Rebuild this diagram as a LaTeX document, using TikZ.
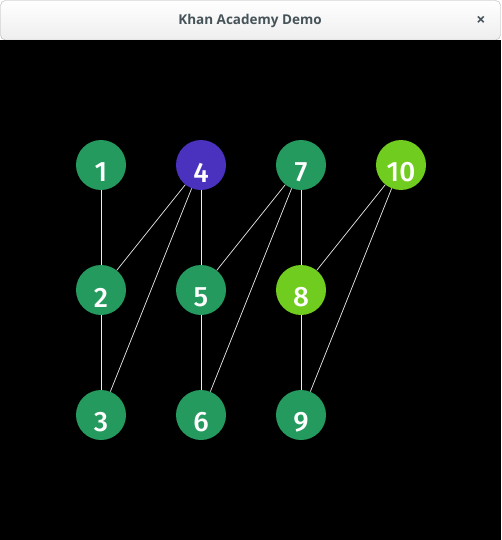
\documentclass[tikz,border=0pt]{standalone}
\usepackage{fontspec}
\setmainfont{Open Sans}
\newfontfamily\titlefont{Open Sans}
\newfontfamily\digitfont{Fira Sans Medium}
\definecolor{kgreen}{RGB}{37,154,94}
\definecolor{kpurple}{RGB}{74,50,190}
\definecolor{klime}{RGB}{112,204,30}
\definecolor{ktitle}{RGB}{70,84,90}
\definecolor{kbar}{RGB}{238,238,238}
\begin{document}
\begin{tikzpicture}[x=1pt,y=-1pt,
  vert/.style={circle,minimum size=50pt,inner sep=0pt},
  lab/.style={text=white,font=\digitfont\fontsize{28}{28}\selectfont,inner sep=0pt},
  edge/.style={draw=white!85!gray,line width=0.7pt}]
\useasboundingbox (0,0) rectangle (501,540);
\fill[white] (0,0) rectangle (501,540);
\shade[top color=white,bottom color=kbar,rounded corners=5pt,draw=gray!60] (0.5,0.5) -- (500.5,0.5) -- (500.5,40) -- (0.5,40) -- cycle;
\fill[black] (0,40) rectangle (501,540);
\node[text=ktitle,font=\titlefont\fontsize{13.5}{14}\selectfont\bfseries] (title) at (250,21) {Khan Academy Demo};
\node[text=ktitle,font=\fontsize{16}{16}\selectfont\bfseries] (close) at (481,20.5) {×};
% vertices
\node[vert,fill=kgreen] (n1) at (101,165) {};
\node[vert,fill=kgreen] (n2) at (101,290) {};
\node[vert,fill=kgreen] (n3) at (101,415) {};
\node[vert,fill=kpurple] (n4) at (201,165) {};
\node[vert,fill=kgreen] (n5) at (201,290) {};
\node[vert,fill=kgreen] (n6) at (201,415) {};
\node[vert,fill=kgreen] (n7) at (301,165) {};
\node[vert,fill=klime] (n8) at (301,290) {};
\node[vert,fill=kgreen] (n9) at (301,415) {};
\node[vert,fill=klime] (n10) at (401,165) {};
% edges
\draw[edge] (n1) -- (n2);
\draw[edge] (n2) -- (n3);
\draw[edge] (n4) -- (n2);
\draw[edge] (n4) -- (n3);
\draw[edge] (n4) -- (n5);
\draw[edge] (n5) -- (n6);
\draw[edge] (n7) -- (n5);
\draw[edge] (n7) -- (n6);
\draw[edge] (n7) -- (n8);
\draw[edge] (n8) -- (n9);
\draw[edge] (n10) -- (n8);
\draw[edge] (n10) -- (n9);
% labels
\foreach \n/\t in {n1/1,n2/2,n3/3,n4/4,n5/5,n6/6,n7/7,n8/8,n9/9,n10/10}{
  \node[lab] (l\n) at ([yshift=-7.5pt]\n.center) {\t};
}
\end{tikzpicture}
\end{document}
